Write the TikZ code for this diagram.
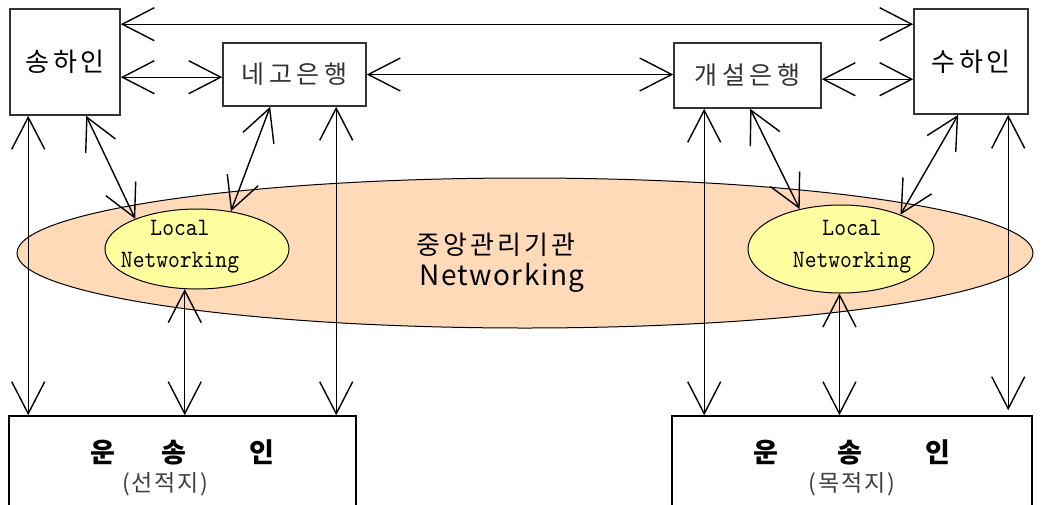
\documentclass[tikz,border=0pt]{standalone}
\usepackage{fontspec}
\usetikzlibrary{arrows.meta,calc,shapes.geometric}
\newfontfamily\kra[LetterSpace=15]{Noto Sans CJK KR}
\newfontfamily\krb[LetterSpace=18]{Noto Sans CJK KR}
\newfontfamily\krc[LetterSpace=12]{Noto Sans CJK KR}
\newfontfamily\krd[LetterSpace=5]{Noto Sans CJK KR}
\newfontfamily\krp[LetterSpace=8]{Noto Sans CJK KR}
\newfontfamily\kre{Noto Sans CJK KR}
\newfontfamily\lmono[FakeStretch=0.9]{lmmono10-regular.otf}
\definecolor{peach}{RGB}{255,218,185}
\definecolor{lyellow}{RGB}{255,255,160}
\tikzset{
  partybox/.style={draw=black!80, line width=1.6pt, fill=white, inner sep=0pt},
  carrierbox/.style={draw=black, line width=1.6pt, fill=white, inner sep=0pt, align=center},
  netell/.style={ellipse, draw=black, line width=1pt, inner sep=0pt},
  arr/.style={{Straight Barb[length=32pt,width=33pt]}-{Straight Barb[length=32pt,width=33pt]}, line width=1.4pt, black},
  loctext/.style={font=\lmono\fontsize{25}{32}\selectfont, align=center, inner sep=0pt}
}
\begin{document}
\begin{tikzpicture}[x=1pt,y=-1pt]
\useasboundingbox (0,0) rectangle (1041,504);
\clip (0,0) rectangle (1041,504);
\fill[white] (0,0) rectangle (1041,504);

% central ellipse
\node[netell, fill=peach, minimum width=1016pt, minimum height=150pt] (central) at (525,253) {};
\node[font=\krc\fontsize{26}{30}\selectfont, inner sep=0pt] (centraltitle) at (496,245) {중앙관리기관};
\node[font=\krd\fontsize{28}{30}\selectfont, inner sep=0pt] (centralnet) at (502,278) {Networking};

% local ellipses
\node[netell, fill=lyellow, minimum width=184pt, minimum height=80pt] (locL) at (197,249) {};
\node[loctext] (locLtext) at (180,247) {Local\\Networking};
\node[netell, fill=lyellow, minimum width=186pt, minimum height=88pt] (locR) at (841,249) {};
\node[loctext] (locRtext) at (852,247) {Local\\Networking};

% party boxes
\node[partybox, minimum width=110pt, minimum height=106pt, font=\kra\fontsize{26}{28}\selectfont] (songha) at (65,62) {송하인};
\node[partybox, minimum width=143pt, minimum height=63pt, font=\krb\fontsize{25}{28}\selectfont, text=black!80] (nego) at (294.5,74.5) {네고은행};
\node[partybox, minimum width=147pt, minimum height=65pt, font=\krb\fontsize{25}{28}\selectfont, text=black!80] (gaeseol) at (747.5,75.5) {개설은행};
\node[partybox, minimum width=114pt, minimum height=105pt, font=\kra\fontsize{26}{28}\selectfont] (suha) at (971,61.5) {수하인};

% carrier boxes
\node[carrierbox, minimum width=347pt, minimum height=104pt] (unL) at (182.5,468)
  {{\kre\bfseries\fontsize{27}{30}\selectfont 운\hspace{46pt}송\hspace{63pt}인}\\[6pt]
   {\krp\fontsize{23}{26}\selectfont\color{black!75}(선적지)\hspace{34pt}}};
\node[carrierbox, minimum width=360pt, minimum height=104pt] (unR) at (852,468)
  {{\kre\bfseries\fontsize{27}{30}\selectfont 운\hspace{59pt}송\hspace{63pt}인}\\[6pt]
   {\krp\fontsize{23}{26}\selectfont\color{black!75}(목적지)}};

% connectors
\draw[arr] ($(songha.north east)+(0,16)$) -- ($(suha.north west)+(0,16)$);
\draw[arr] ($(songha.north east)+(0,69)$) -- ($(nego.north west)+(0,35)$);
\draw[arr] (nego.east) -- (nego.east -| gaeseol.west);
\draw[arr] ($(gaeseol.north east)+(0,37)$) -- ($(suha.north west)+(0,71)$);

\draw[arr] ($(songha.south west)+(19,0)$) -- ($(unL.north west)+(20,0)$);
\draw[arr] ($(songha.south west)+(77,0)$) -- (locL.154);
\draw[arr] ($(nego.south west)+(48,0)$) -- (locL.48);
\draw[arr] ($(nego.south west)+(114,0)$) -- ($(unL.north west)+(328,0)$);
\draw[arr] (locL.253) -- (locL.253 |- unL.north);

\draw[arr] ($(gaeseol.south west)+(31,0)$) -- ($(unR.north west)+(33,0)$);
\draw[arr] ($(gaeseol.south west)+(77,0)$) -- (locR.136);
\draw[arr] ($(suha.south west)+(45,0)$) -- (locR.30);
\draw[arr] ($(suha.south west)+(95,0)$) -- ($(unR.north west)+(337,-5)$);
\draw[arr] (locR.268) -- (locR.268 |- unR.north);
\end{tikzpicture}
\end{document}
